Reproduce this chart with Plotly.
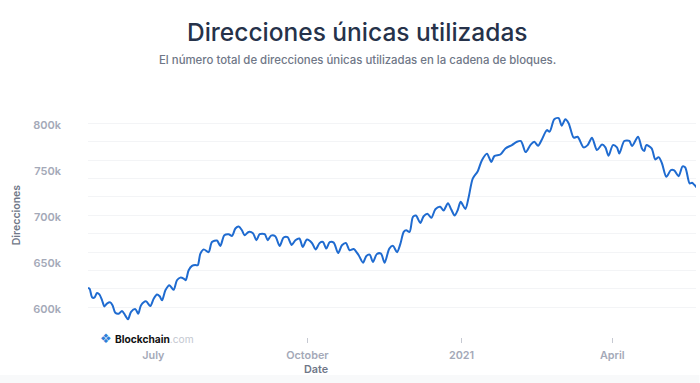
import plotly.graph_objects as go
import pandas as pd

START_DATE = "2020-05-23"
days = [0,1,2.4,3.8,5.4,6.8,8.4,9.8,11.3,13.3,14.7,16.3,18.3,20.3,22.3,23.9,25.7,28.3,30,31.6,34.6,37.2,39.2,41.2,42.8,44.2,46.2,48.6,51.1,53.1,55.1,57.1,58.3,60.1,62.1,64.1,65.5,67.1,69.1,72,74,77,79,81.4,84,86,88,90,91.9,93.5,95.9,98.5,100.5,102.5,105.5,107.3,109.3,111.8,114.4,116.8,119.2,121.6,123.8,126.2,128.2,130.7,133.7,135.9,138.3,140.3,142.3,144.3,146.7,149.3,151.6,154,156.2,158.6,161.6,164.2,166.2,168.2,170.1,172.5,174.9,177.1,179.9,182.1,184.5,186.5,188.5,190,192,194,195.8,198.4,200.4,202.8,205,207.4,210.3,212.3,214.9,216.9,218.9,220.7,222.5,225.3,227.3,229.7,232.7,235.2,238.2,240.8,242.6,246.2,249.2,253.1,256.1,258.5,261.3,264.1,266.5,268.7,271,274,275.6,278.4,281,282.8,285,287,290,292.3,295.9,298.3,300.9,303.9,306.9,308.9,310.8,313.4,315.8,317.2,320.2,323.2,324.8,328.4,330.7,332.1,333.3,336.5,338.7,340.7,342.7,345.3,348,350,352.6,355,356.6,359.2,360.6,362,363.6]
addresses_k = [621,620,611,610.5,615.6,614,607.6,601,604,605.4,602,594,593,596,591,587,595,598,593,602,606.5,601.4,609.4,614,612,607.6,618.5,624,619,629.4,632.3,631.2,629.4,640.3,645,646,645.7,658.4,663,660,671,672.6,666.8,678.4,679.5,677.7,685.7,687.8,683.8,678.4,682,680.6,673,679.5,679.5,673,678,677.3,666.8,675.9,676.2,667.9,673,674.8,665.7,673.7,670,663,670,671,663.9,670.8,670.4,659,667.5,670,662,663.5,656.6,648.6,655.9,657.3,649.4,658,658.4,648.6,663.9,666.8,660,669,682,683.8,682,698.4,699.8,691.8,699,701.6,697.3,706.7,709.3,705.3,713.2,706.3,699.8,705.6,714.7,707,720,740,748,760,767,758,764.4,766.2,772.8,776.4,780,780.8,768.8,776.4,780,775.7,782.6,792.7,791,804.4,805.8,797.5,804.4,800,784.4,785.5,773.9,776.4,784.4,771,777,773.9,764.8,776.4,773.9,767.3,780.8,781,775.3,785.5,772.8,769.9,776.4,772.8,760.8,763.3,756.4,741.9,749.2,748.8,742.6,753.2,752,734.7,735.4,733.2,730]

y_ticks = [600, 650, 700, 750, 800]
y_labels = ["600k", "650k", "700k", "750k", "800k"]
x_ticks = ["2020-07-01", "2020-10-01", "2021-01-01", "2021-04-01"]
x_labels = ["July", "October", "2021", "April"]

dates = pd.Timestamp(START_DATE) + pd.to_timedelta(days, unit="D")

W, H = 700, 383
L, R, T, B = 88, 696.5, 104.7, 337
FONT = "Inter, Roboto, sans-serif"
GREY = "#a4a9b8"

def px(x): return (x - L) / (R - L)
def py(y): return (B - y) / (B - T)

fig = go.Figure(go.Scatter(
    x=dates, y=addresses_k, mode="lines",
    line=dict(color="#1f6bd0", width=2, shape="spline", smoothing=0.8),
    hoverinfo="skip",
))

fig.update_layout(
    width=W, height=H, autosize=False,
    margin=dict(l=L, r=W - R, t=T, b=H - B, pad=0),
    paper_bgcolor="white", plot_bgcolor="white",
    showlegend=False,
    xaxis=dict(
        range=["2020-05-23", "2021-05-21"], anchor="free", position=0,
        tickmode="array", tickvals=x_ticks, ticktext=x_labels,
        ticks="outside", ticklen=5, tickwidth=1, tickcolor="#c6c9d2",
        showgrid=False, showline=False, zeroline=False,
        ticklabelstandoff=3,
        tickfont=dict(family=FONT, size=10.8, color=GREY, weight=600),
    ),
    yaxis=dict(
        range=[580, 820], domain=[(B - 325.7) / (B - T), 1],
        tickmode="array", tickvals=y_ticks, ticktext=y_labels,
        showgrid=False, showline=False, zeroline=False, ticks="",
        ticklabelshift=2, ticklabelstandoff=26,
        tickfont=dict(family=FONT, size=11, color=GREY, weight=600),
        minor=dict(dtick=20, tick0=580, showgrid=True, gridcolor="#f3f4f6", gridwidth=1, ticks=""),
    ),
    shapes=[dict(type="rect", xref="paper", yref="paper", x0=px(0), x1=px(W),
                 y0=py(375), y1=py(H), fillcolor="#f8f9fa", line_width=0, layer="below")],
    annotations=[
        dict(text="Direcciones únicas utilizadas", xref="paper", yref="paper", x=px(358), y=py(32),
             showarrow=False, xanchor="center", yanchor="middle",
             font=dict(family=FONT, size=24.5, color="#26324a", weight=500)),
        dict(text="El número total de direcciones únicas utilizadas en la cadena de bloques.",
             xref="paper", yref="paper", x=px(357.5), y=py(60), showarrow=False,
             xanchor="center", yanchor="middle",
             font=dict(family=FONT, size=11.4, color="#6f7787", weight=500)),
        dict(text="Direcciones", xref="paper", yref="paper", x=px(16), y=py(215), textangle=-90,
             showarrow=False, xanchor="center", yanchor="middle",
             font=dict(family=FONT, size=10.5, color="#6f7787", weight=600)),
        dict(text="Date", xref="paper", yref="paper", x=px(316), y=py(370), showarrow=False,
             xanchor="center", yanchor="middle",
             font=dict(family=FONT, size=10.8, color="#6f7787", weight=600)),
        dict(text="<b>Blockchain</b><span style='color:#c3c7d0'>.com</span>",
             xref="paper", yref="paper", x=px(114.5), y=py(339), showarrow=False,
             xanchor="left", yanchor="middle", bgcolor="white", borderpad=0,
             font=dict(family=FONT, size=10.2, color="#111111")),
        dict(text="❖", xref="paper", yref="paper", x=px(106), y=py(339), showarrow=False,
             xanchor="center", yanchor="middle",
             font=dict(family="DejaVu Sans", size=13, color="#2f7fd8")),
    ],
)

fig.write_html("out.html", config={"displayModeBar": False},
               post_script="document.body.style.margin='0';")
